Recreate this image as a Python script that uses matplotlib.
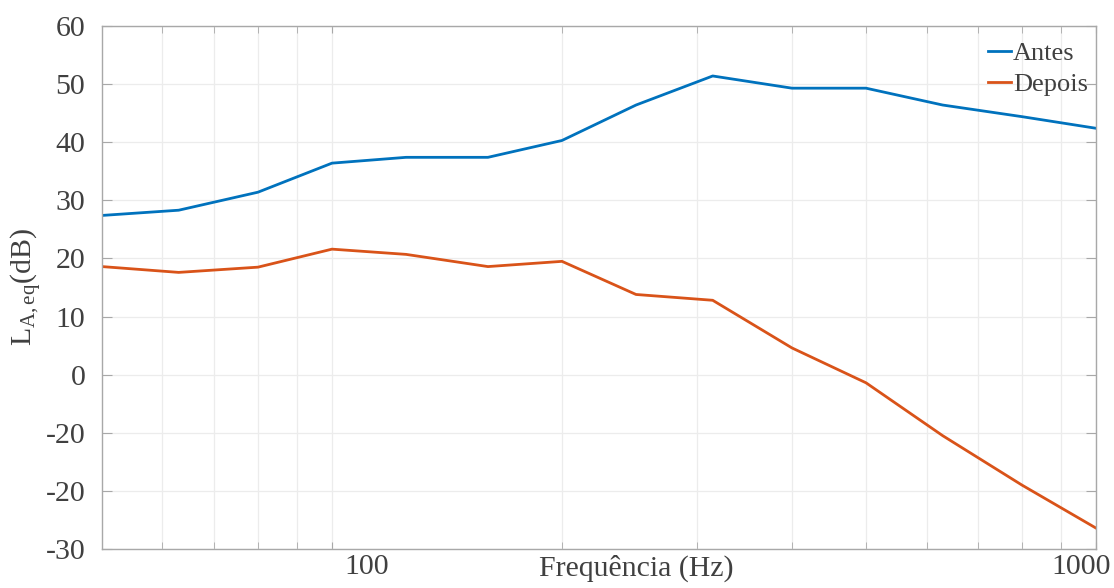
import numpy as np
import matplotlib.pyplot as plt
from matplotlib import transforms

#=========================================================
#                  data (1/3 octave bands)
#=========================================================
freq   = [50, 63, 80, 100, 125, 160, 200, 250, 315, 400, 500, 630, 800, 1000]
antes  = [27.4, 28.3, 31.4, 36.4, 37.4, 37.4, 40.3, 46.4, 51.4, 49.3, 49.3, 46.4, 44.4, 42.4]
depois = [18.6, 17.6, 18.5, 21.6, 20.7, 18.6, 19.5, 13.8, 12.8, 4.6, -1.4, -10.5, -19.0, -26.4]

yticks      = [60, 50, 40, 30, 20, 10, 0, -10, -20, -30]
ytick_lbls  = ['60', '50', '40', '30', '20', '10', '0', '-20', '-20', '-30']
xticks      = [100, 1000]
xtick_lbls  = ['100', '1000']
xminor      = [60, 70, 80, 90, 200, 300, 400, 500, 600, 700, 800, 900]

#=========================================================
#                  style
#=========================================================
plt.rcParams['font.family'] = ['Liberation Serif', 'DejaVu Serif']
plt.rcParams['mathtext.fontset'] = 'custom'
plt.rcParams['mathtext.rm'] = 'Liberation Serif'
plt.rcParams['mathtext.it'] = 'Liberation Serif:italic'
txt_c  = '#404040'
grid_c = '#ececec'
spn_c  = '#a8a8a8'
fs     = 21.5   # ticks / axis labels
fs_leg = 19

#=========================================================
#                  plot
#=========================================================
fig = plt.figure(figsize=(11.14, 5.88), dpi=100)
ax  = fig.add_axes([102/1114, 1-549/588, (1096-102)/1114, (549-26)/588])

ax.plot(freq, antes,  '-', color='#0072BD', lw=2.0, label='Antes')
ax.plot(freq, depois, '-', color='#D95319', lw=2.0, label='Depois')

ax.set_xscale('log')
ax.set_xlim(50, 1000)
ax.set_ylim(-30, 60)

ax.set_xticks(xticks)
ax.set_xticks(xminor, minor=True)
ax.set_xticklabels([])
ax.set_xticklabels([], minor=True)
ax.set_yticks(yticks)
ax.set_yticklabels(ytick_lbls)

ax.tick_params(axis='both', which='both', direction='in', top=True, right=True,
               color=spn_c, labelcolor=txt_c, labelsize=fs)
ax.tick_params(axis='y', which='major', length=7, pad=12)
ax.tick_params(axis='x', which='both', length=5)
for s in ax.spines.values():
    s.set_color(spn_c)
    s.set_linewidth(1.0)

ax.grid(True, which='both', color=grid_c, lw=0.9)
ax.set_axisbelow(True)

# x tick labels, shifted off the ticks
off = [0.35, -0.15]
for xv, lb, dx in zip(xticks, xtick_lbls, off):
    tr = transforms.blended_transform_factory(ax.transData, ax.transAxes) + \
         transforms.ScaledTranslation(dx, 0, fig.dpi_scale_trans)
    ax.text(xv, -0.010, lb, transform=tr, ha='center', va='top',
            fontsize=fs, color=txt_c, clip_on=False)

ax.set_xlabel('Frequência (Hz)', fontsize=fs, color=txt_c)
ax.xaxis.set_label_coords((636-102)/994, -0.010)
ax.xaxis.label.set_va('top')
ax.set_ylabel(r'L$_{\mathrm{A,eq}}$(dB)', fontsize=fs, color=txt_c)
ax.yaxis.set_label_coords(-(102-27)/994, 0.5)
ax.yaxis.label.set_va('center')

leg = ax.legend(loc='upper right', bbox_to_anchor=(1 + 8/994, 1), frameon=False,
                fontsize=fs_leg, handlelength=0.85, handletextpad=0.1,
                labelspacing=0.28, borderaxespad=0.4, borderpad=0.2)
for t in leg.get_texts():
    t.set_color(txt_c)

fig.savefig('out.png', dpi=100)
